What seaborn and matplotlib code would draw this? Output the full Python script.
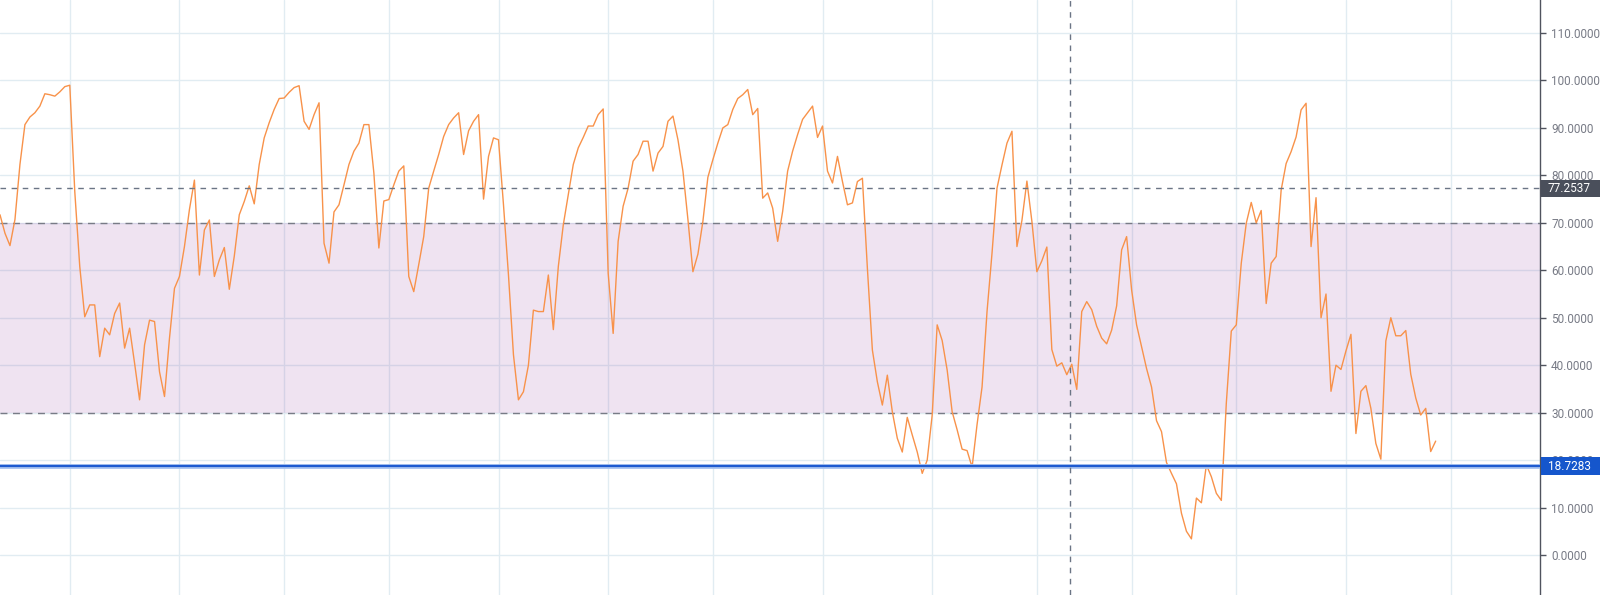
import numpy as np
import pandas as pd
import matplotlib
matplotlib.use('Agg')
import matplotlib.pyplot as plt
import matplotlib.transforms as mtransforms
from matplotlib.patches import Rectangle
import seaborn as sns

# RSI values, one per trading day
rsi = [71.7, 67.8, 65.2, 70.7, 82.3, 90.7, 92.3, 93.2, 94.6, 97.2,
       97.0, 96.7, 97.6, 98.7, 99.0, 76.6, 60.8, 50.2, 52.7, 52.7,
       41.8, 47.8, 46.4, 50.9, 53.1, 43.6, 47.8, 40.4, 32.7, 44.3,
       49.5, 49.2, 38.6, 33.4, 45.7, 56.2, 58.7, 65.0, 72.8, 79.0,
       59.0, 68.5, 70.6, 58.7, 62.2, 64.8, 56.0, 63.0, 71.7, 74.5,
       77.8, 74.0, 82.3, 87.9, 91.1, 93.9, 96.2, 96.3, 97.5, 98.5,
       98.9, 91.4, 89.7, 92.8, 95.3, 65.7, 61.5, 72.3, 73.8, 78.0,
       82.3, 85.1, 86.8, 90.7, 90.7, 80.5, 64.7, 74.6, 74.9, 78.0,
       80.9, 82.0, 58.7, 55.5, 61.2, 67.1, 77.3, 80.9, 84.4, 88.2,
       90.7, 92.1, 93.2, 84.4, 89.4, 91.4, 92.8, 75.0, 84.0, 87.9,
       87.5, 73.8, 59.0, 42.2, 32.7, 34.4, 40.0, 51.6, 51.3, 51.3,
       59.0, 47.5, 60.8, 69.6, 75.9, 82.3, 85.8, 88.0, 90.4, 90.4,
       92.8, 94.0, 59.4, 46.7, 66.1, 73.5, 77.3, 83.0, 84.4, 87.2,
       87.2, 80.9, 84.7, 86.1, 91.4, 92.5, 87.5, 80.9, 70.7, 59.7,
       63.4, 70.3, 79.6, 83.3, 86.8, 90.0, 90.7, 93.9, 96.2, 97.0,
       98.1, 92.8, 94.1, 75.2, 76.3, 73.1, 66.1, 72.4, 80.9, 85.1,
       88.6, 91.8, 93.2, 94.6, 88.0, 90.4, 80.9, 78.4, 84.0, 78.7,
       73.8, 74.2, 78.7, 79.4, 60.4, 43.2, 36.5, 31.6, 37.9, 30.2,
       24.6, 21.7, 29.0, 25.3, 21.7, 17.2, 20.0, 29.5, 48.5, 45.2,
       39.0, 30.2, 26.4, 22.3, 22.0, 18.5, 27.5, 35.4, 51.3, 63.6,
       77.3, 82.2, 86.8, 89.3, 65.0, 70.5, 78.8, 70.3, 59.7, 62.0,
       64.9, 43.3, 39.8, 40.5, 38.0, 40.2, 34.9, 51.3, 53.4, 51.7,
       48.2, 45.7, 44.5, 47.4, 52.5, 64.3, 67.1, 55.9, 48.5, 43.9,
       39.3, 35.4, 28.3, 26.0, 19.5, 17.2, 15.0, 8.8, 5.0, 3.4,
       12.0, 11.0, 19.0, 16.5, 13.0, 11.5, 32.0, 47.2, 48.5, 61.5,
       69.9, 74.3, 70.0, 72.6, 53.0, 61.5, 62.9, 76.9, 82.5, 85.0,
       88.1, 93.8, 95.2, 65.0, 75.3, 50.0, 55.0, 34.5, 40.0, 39.1,
       43.0, 46.5, 25.6, 34.5, 35.7, 30.9, 23.5, 20.2, 45.1, 50.0,
       46.2, 46.2, 47.3, 38.1, 33.1, 29.5, 30.9, 21.8, 24.0]

month_starts = [14, 36, 57, 78, 100, 122, 143, 165, 187, 208, 227, 248, 270, 291]
y_ticks = [0, 10, 20, 30, 40, 50, 60, 70, 80, 90, 100, 110]
upper_band = 70
lower_band = 30
crosshair_x = 214.6
crosshair_y = 77.2537
hline_y = 18.7283

df = pd.DataFrame({'day': np.arange(len(rsi)), 'rsi': rsi})

sns.set_style('white')
plt.rcParams['font.family'] = ['Roboto', 'DejaVu Sans']

fig = plt.figure(figsize=(16, 5.95), dpi=100)
ax = fig.add_axes([0, 0, 1540 / 1600, 1])

# band and grid
ax.axhspan(lower_band, upper_band, color='#9444a2', alpha=0.15, lw=0, zorder=1)
for y in y_ticks:
    ax.axhline(y, color='#e1ecf2', lw=1, zorder=0)
for x in month_starts:
    ax.axvline(x, color='#e1ecf2', lw=1, zorder=0)

ax.axhline(upper_band, color='#787b86', lw=1, ls=(0, (5, 4)), zorder=2)
ax.axhline(lower_band, color='#787b86', lw=1, ls=(0, (5, 4)), zorder=2)

sns.lineplot(data=df, x='day', y='rsi', ax=ax, color='#f8924a', lw=1.0, zorder=3)

# horizontal line drawn by user
ax.axhline(hline_y, color='#a9c4f0', lw=3.5, zorder=4)
ax.axhline(hline_y, color='#1e5bd0', lw=1.6, zorder=5)

# crosshair
ax.axvline(crosshair_x, color='#6b7585', lw=1, ls=(0, (4, 4)), zorder=6)
ax.axhline(crosshair_y, color='#6b7585', lw=1, ls=(0, (4, 4)), zorder=6)

ax.set_xlim(0, 1540 / 4.985)
ax.set_ylim(-8.43, 116.96)
ax.set_xlabel('')
ax.set_ylabel('')
ax.set_xticks([])
ax.yaxis.tick_right()
ax.set_yticks(y_ticks)
ax.set_yticklabels([f'{v:.4f}' for v in y_ticks])
ax.tick_params(axis='y', length=4, width=1, color='#50535e', labelcolor='#787b86',
               labelsize=8.5, pad=4)
for side in ['left', 'top', 'bottom']:
    ax.spines[side].set_visible(False)
ax.spines['right'].set_color('#50535e')
ax.spines['right'].set_linewidth(1)

# value labels on the price scale
trans = mtransforms.blended_transform_factory(ax.transAxes, ax.transData)
box_w = 60 / 1540
box_h = 17.5 / 4.745
for val, col in [(crosshair_y, '#4a4f5b'), (hline_y, '#1556cc')]:
    ax.add_patch(Rectangle((1.0005, val - box_h / 2), box_w, box_h, transform=trans,
                           facecolor=col, edgecolor='none', clip_on=False, zorder=19))
    ax.text(1548 / 1540, val, f'{val:.4f}', transform=trans, ha='left', va='center',
            color='white', fontsize=8.5, clip_on=False, zorder=20)

fig.savefig('out.png', dpi=100)
